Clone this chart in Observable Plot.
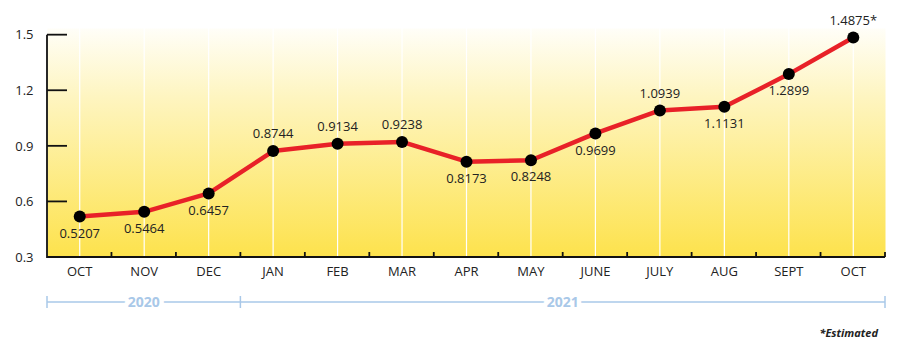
<!DOCTYPE html>
<html>
<head>
<meta charset="utf-8">
<script src="https://cdn.jsdelivr.net/npm/d3@7"></script>
<script src="https://cdn.jsdelivr.net/npm/@observablehq/plot@0.6"></script>
<style>
  html, body { margin: 0; padding: 0; background: #fff; }
  #chart { position: relative; width: 900px; height: 353px; font-family: "Open Sans", "Noto Sans", sans-serif; }
  #note { position: absolute; right: 22px; top: 325px; font-size: 11px; font-weight: 700; font-style: italic; color: #222; }
</style>
</head>
<body>
<div id="chart"></div>
<script>
const months = ["OCT","NOV","DEC","JAN","FEB","MAR","APR","MAY","JUNE","JULY","AUG","SEPT","OCT"];
const values = [0.5207,0.5464,0.6457,0.8744,0.9134,0.9238,0.8173,0.8248,0.9699,1.0939,1.1131,1.2899,1.4875];
const labels = ["0.5207","0.5464","0.6457","0.8744","0.9134","0.9238","0.8173","0.8248","0.9699","1.0939","1.1131","1.2899","1.4875*"];
const labelAbove = [false,false,false,true,true,true,false,false,false,true,false,false,true];
const yTicks = [0.3,0.6,0.9,1.2,1.5];
const years = ["2020","2021"];
const yearMonths = [3,10];
const note = "*Estimated";

const data = months.map((m,i) => ({i, m, v: values[i], label: labels[i], above: labelAbove[i]}));
let acc = -0.5;
const spans = years.map((y,k) => { const s = {year: y, x1: acc, x2: acc + yearMonths[k]}; acc += yearMonths[k]; s.mid = (s.x1+s.x2)/2; return s; });

const bgDefs = () => {
  const svgNS = "http://www.w3.org/2000/svg";
  const defs = document.createElementNS(svgNS, "defs");
  defs.innerHTML = `<linearGradient id="bggrad" x1="0" y1="0" x2="0" y2="1">
    <stop offset="0" stop-color="#fffef8"/>
    <stop offset="0.3" stop-color="#fef5c0"/>
    <stop offset="1" stop-color="#fde24c"/>
  </linearGradient>`;
  return defs;
};

// axis lines and tick marks drawn through the plot's own scales
const axisLines = (index, scales, values, dims) => {
  const g = d3.create("svg:g").attr("stroke", "#111").attr("stroke-width", 1.8).attr("fill", "none");
  const x0 = scales.x(-0.5);
  const yb = scales.y(yTicks[0]);
  const xr = scales.x(months.length - 0.5);
  g.append("path").attr("d", `M${x0},${scales.y(yTicks[yTicks.length - 1])}V${yb}H${xr}`);
  for (const t of yTicks.slice(1)) {
    g.append("path").attr("d", `M${x0},${scales.y(t)}h20`);
  }
  for (let k = 1; k <= months.length; k++) {
    g.append("path").attr("d", `M${scales.x(k - 0.5)},${yb}v-5`);
  }
  return g.node();
};

const brackets = (index, scales, values, dims) => {
  const g = d3.create("svg:g").attr("stroke", "#a9c8e8").attr("stroke-width", 1.5);
  const yb = dims.height - dims.marginBottom + 45;
  const ends = [spans[0].x1, ...spans.map(s => s.x2)];
  for (const e of ends) {
    g.append("line").attr("x1", scales.x(e)).attr("x2", scales.x(e)).attr("y1", yb - 6).attr("y2", yb + 6);
  }
  for (const s of spans) {
    g.append("line").attr("x1", scales.x(s.x1)).attr("x2", scales.x(s.x2)).attr("y1", yb).attr("y2", yb);
    g.append("text").attr("x", scales.x(s.mid)).attr("y", yb).attr("dy", "0.35em")
      .attr("text-anchor", "middle").attr("fill", "#a9c8e8").attr("stroke", "white").attr("stroke-width", 9)
      .attr("paint-order", "stroke").attr("font-size", 14).attr("font-weight", 700).text(s.year);
  }
  return g.node();
};

const chart = Plot.plot({
  width: 900,
  height: 353,
  marginLeft: 47,
  marginRight: 15,
  marginTop: 28,
  marginBottom: 96,
  style: {fontFamily: "'Open Sans', 'Noto Sans', sans-serif", fontSize: "13px", color: "#222", background: "transparent", overflow: "visible"},
  x: {domain: [-0.5, months.length - 0.5], axis: null, label: null},
  y: {domain: [0.3, 1.536], axis: null, label: null},
  marks: [
    bgDefs,
    Plot.frame({fill: "url(#bggrad)", stroke: null}),
    Plot.ruleX(data, {x: "i", stroke: "white", strokeWidth: 1.2}),
    Plot.axisY({ticks: yTicks, tickSize: 0, tickPadding: 14, label: null, tickFormat: d => d.toFixed(1), fontSize: 13, fill: "#222"}),
    Plot.axisX({ticks: d3.range(months.length), tickSize: 0, tickPadding: 9, label: null, tickFormat: i => months[i], fontSize: 13, fill: "#222"}),
    axisLines,
    Plot.line(data, {x: "i", y: "v", stroke: "#e82128", strokeWidth: 4.5}),
    Plot.dot(data, {x: "i", y: "v", r: 6, fill: "#000"}),
    Plot.text(data.filter(d => d.above), {x: "i", y: "v", text: "label", dy: -17, fontSize: 13, fill: "#222"}),
    Plot.text(data.filter(d => !d.above), {x: "i", y: "v", text: "label", dy: 17, fontSize: 13, fill: "#222"}),
    brackets
  ]
});
document.getElementById("chart").appendChild(chart);
const n = document.createElement("div");
n.id = "note"; n.textContent = note;
document.getElementById("chart").appendChild(n);
</script>
</body>
</html>
